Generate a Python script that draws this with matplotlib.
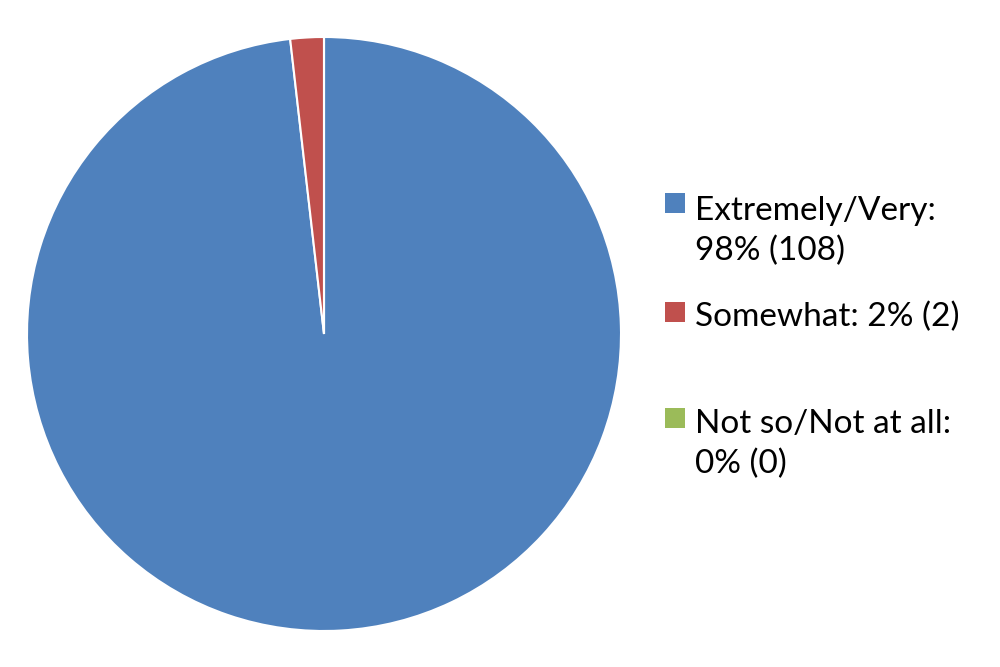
import matplotlib.pyplot as plt
from matplotlib.patches import Rectangle

labels = ["Extremely/Very:\n98% (108)", "Somewhat: 2% (2)", "Not so/Not at all:\n0% (0)"]
counts = [108, 2, 0]
colors = ["#4F81BD", "#C0504D", "#9BBB59"]

fig = plt.figure(figsize=(10, 6.67), dpi=100)
# pie area: centre ~ (324, 334) px, radius ~297 px
ax = fig.add_axes([27 / 1000, 36 / 667, 594 / 1000, 594 / 667])
ax.pie(counts, colors=colors, startangle=90, counterclock=False,
       wedgeprops=dict(edgecolor="white", linewidth=1.5))
ax.set_xlim(-1.0, 1.0)
ax.set_ylim(-1.0, 1.0)
ax.set_aspect("equal")

# legend drawn by hand, Excel-style (square aligned to first line)
sq_top = [193, 302, 408]
baselines = [220, 326, 433]
for lab, col, top, base in zip(labels, colors, sq_top, baselines):
    fig.add_artist(Rectangle((665 / 1000, 1 - (top + 20) / 667), 20 / 1000, 20 / 667,
                             transform=fig.transFigure, facecolor=col, edgecolor="none"))
    for i, line in enumerate(lab.split("\n")):
        fig.text(695 / 1000, 1 - (base + 40 * i) / 667, line, fontsize=24, family="Lato",
                 va="baseline", ha="left", color="black")

fig.savefig("out.png", dpi=100)
